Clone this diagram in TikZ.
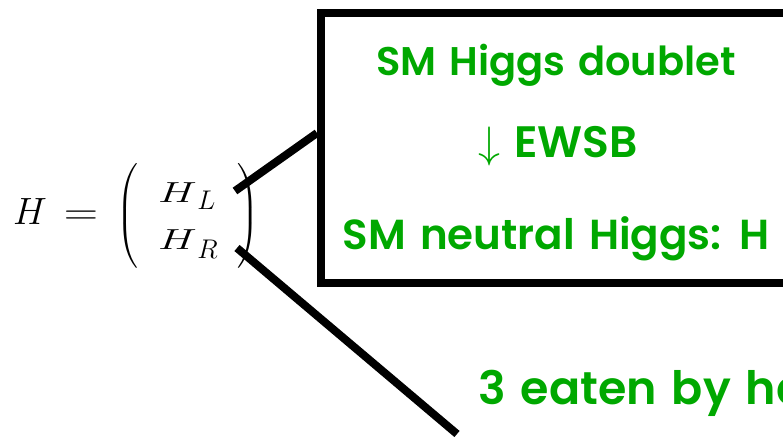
\RequirePackage{fix-cm}
\documentclass[tikz,border=0pt]{standalone}
\usepackage{graphicx}
\usepackage{amsmath}
\usepackage{fontspec}
\newfontfamily\comicfont{Poppins}[UprightFont=*-SemiBold]
\definecolor{smgreen}{RGB}{0,168,0}
\newcommand{\greenfont}{\comicfont\fontsize{42}{46}\selectfont\spaceskip=14pt plus 2pt minus 2pt\relax}
\newcommand{\greenbig}{\comicfont\fontsize{46}{50}\selectfont\spaceskip=15pt plus 2pt minus 2pt\relax}
\newcommand{\greensmall}{\comicfont\fontsize{40}{44}\selectfont\spaceskip=13pt plus 2pt minus 2pt\relax}
\newcommand{\greenmid}{\comicfont\fontsize{44}{48}\selectfont\spaceskip=14pt plus 2pt minus 2pt\relax}
\newcommand{\entry}[2]{{\fontsize{29}{35}\selectfont\scalebox{1.5}[1]{$H$}}\kern0.5pt\raisebox{#2}{\fontsize{27}{32}\selectfont$#1$}}
\tikzset{
  greentext/.style={font=\greenfont, text=smgreen, inner sep=0pt},
  mathtext/.style={font=\fontsize{38}{44}\selectfont, inner sep=0pt},
  parentext/.style={font=\fontsize{30}{36}\selectfont, inner sep=0pt},
  thickline/.style={line width=8pt, black},
}
\begin{document}
\begin{tikzpicture}[x=1pt,y=-1pt]
\useasboundingbox (0,0) rectangle (783,438);
\clip (0,0) rectangle (783,438);
% box
\node[draw, thickline, rectangle, minimum width=480pt, minimum height=270pt, anchor=north west, inner sep=0pt] (smbox) at (317,9) {};
% math
\node[mathtext, anchor=base west] (hlhs) at (13,225) {$H$\hspace{17pt}\scalebox{1.25}[1]{$=$}};
\node[parentext, anchor=base west] (lp) at (116,223.5) {$\left(\vrule height 58.5pt depth 43.5pt width 0pt\right.$};
\node[inner sep=0pt, anchor=base west] (hl) at (158,203) {\entry{L}{-7pt}};
\node[inner sep=0pt, anchor=base west] (hr) at (158,249) {\entry{R}{-9pt}};
\node[parentext, anchor=base west] (rp) at (236,223.5) {$\left.\vrule height 58.5pt depth 43.5pt width 0pt\right)$};
% texts
\node[greentext, font=\greensmall, anchor=base] (t1) at (556,76) {SM Higgs doublet};
\node[greentext, font=\greenmid, anchor=base] (t2) at (558,158) {$\downarrow$ EWSB};
\node[greentext, anchor=base] (t3) at (556,249) {SM neutral Higgs: H};
\node[greentext, font=\greenbig, anchor=base west] (t4) at (478,404) {3 eaten by ha};
% connectors
\coordinate (uplow) at (235,191);
\coordinate (lowup) at (237,248);
\coordinate (lowend) at (457,434);
\draw[thickline] (uplow) -- (smbox.west |- 0,133);
\draw[thickline] (lowup) -- (lowend);
\end{tikzpicture}
\end{document}
